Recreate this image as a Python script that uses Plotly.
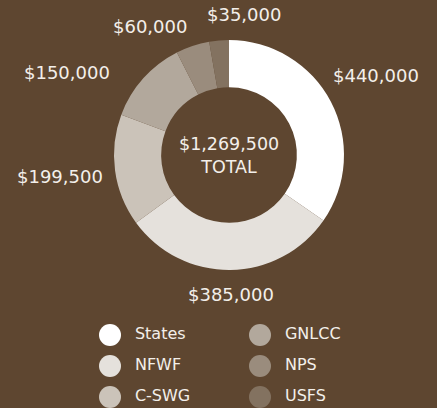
import math
import plotly.graph_objects as go

# Funding sources and amounts (USD)
sources = ["States", "NFWF", "C-SWG", "GNLCC", "NPS", "USFS"]
amounts = [440000, 385000, 199500, 150000, 60000, 35000]
colors = ["#ffffff", "#e5e1dc", "#cbc3b9", "#b2a89c", "#9a8c7d", "#837260"]

# Value-label placement: distance from the ring centre (px) and an angular
# nudge (degrees) that spreads the labels of the thin slices near the top.
label_radius = [167, 140, 170, 182, 151, 141]
label_nudge_deg = [-1, 0, 0.6, -15, -13, 11]

BG = "#5e4630"
FONT = "'DejaVu Sans', sans-serif"
TEXT = "#f3efea"
W, H = 437, 408
CX, CY, R_OUT = 229, 155, 115

total = sum(amounts)
value_text = ["${:,}".format(v) for v in amounts]

fig = go.Figure()

fig.add_trace(go.Pie(
    labels=sources,
    values=amounts,
    marker=dict(colors=colors, line=dict(width=0)),
    hole=0.59,
    sort=False,
    direction="clockwise",
    rotation=0,
    textinfo="none",
    automargin=False,
    showlegend=False,
    hoverinfo="label+value",
    domain=dict(x=[(CX - R_OUT) / W, (CX + R_OUT) / W],
                y=[1 - (CY + R_OUT) / H, 1 - (CY - R_OUT) / H]),
))

# Value labels around the ring, at each slice's mid angle (clockwise from top)
cum = 0
for v, txt, rad, nudge in zip(amounts, value_text, label_radius, label_nudge_deg):
    mid = (cum + v / 2) / total * 360 + nudge
    cum += v
    a = math.radians(mid)
    fig.add_annotation(
        x=CX + rad * math.sin(a), y=CY - rad * math.cos(a),
        xref="x", yref="y", text=txt, showarrow=False,
        xanchor="center", yanchor="middle",
        font=dict(color=TEXT, size=18, family=FONT),
    )

# Two-column legend drawn as markers with labels (column-major order)
leg_x, leg_y = [], []
for i in range(len(sources)):
    col, row = divmod(i, 3)
    leg_x.append(110 + col * 150)
    leg_y.append(335 + row * 31)
fig.add_trace(go.Scatter(
    x=leg_x, y=leg_y,
    mode="markers+text",
    marker=dict(size=22, color=colors, line=dict(width=0)),
    text=["  " + s for s in sources],
    textposition="middle right",
    textfont=dict(color=TEXT, size=16, family=FONT),
    hoverinfo="skip",
    showlegend=False,
    cliponaxis=False,
))

fig.add_annotation(
    x=CX, y=CY, xref="x", yref="y",
    text="$" + "{:,}".format(total) + "<br>TOTAL",
    showarrow=False,
    font=dict(color=TEXT, size=17.5, family=FONT),
    align="center",
)

fig.update_layout(
    width=W, height=H,
    margin=dict(l=0, r=0, t=0, b=0),
    paper_bgcolor=BG, plot_bgcolor="rgba(0,0,0,0)",
    xaxis=dict(range=[0, W], visible=False, fixedrange=True),
    yaxis=dict(range=[H, 0], visible=False, fixedrange=True),
)

fig.write_html("out.html")
